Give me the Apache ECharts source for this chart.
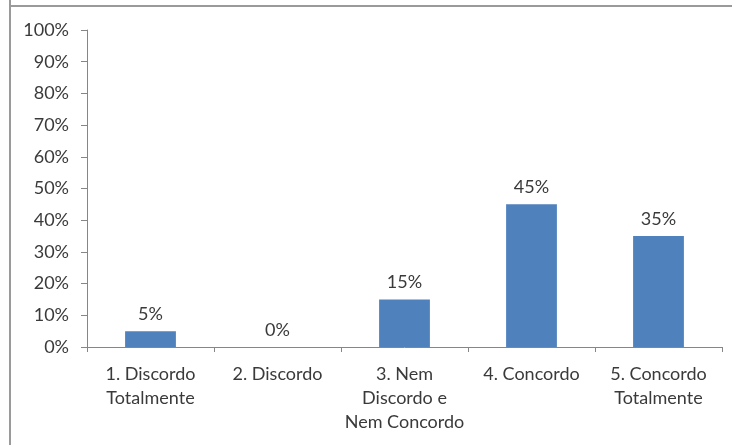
<!DOCTYPE html>
<html>
<head>
<meta charset="utf-8">
<script src="https://cdn.jsdelivr.net/npm/echarts@6/dist/echarts.min.js"></script>
<style>
html,body{margin:0;padding:0;background:#fff;}
#c{width:732px;height:445px;}
</style>
</head>
<body>
<div id="c"></div>
<script>
const categories = ['1. Discordo\nTotalmente', '2. Discordo', '3. Nem\nDiscordo e\nNem Concordo', '4. Concordo', '5. Concordo\nTotalmente'];
const values = [5, 0, 15, 45, 35];
const yTicks = [0, 10, 20, 30, 40, 50, 60, 70, 80, 90, 100];

const FONT = 'Lato';
const FS = 18;
const TXT = '#3a3a3a';
const chart = echarts.init(document.getElementById('c'));
chart.setOption({
  animation: false,
  backgroundColor: '#fff',
  graphic: [
    { type: 'line', shape: { x1: 10, y1: 0, x2: 10, y2: 445 }, style: { stroke: '#9a9a9a', lineWidth: 2 } },
    { type: 'line', shape: { x1: 9, y1: 6, x2: 732, y2: 6 }, style: { stroke: '#9a9a9a', lineWidth: 2 } }
  ],
  grid: { left: 87, right: 10, top: 30, bottom: 98, containLabel: false },
  xAxis: {
    type: 'category',
    data: categories,
    axisLine: { lineStyle: { color: '#868686', width: 1 } },
    axisTick: { show: true, length: 5, alignWithLabel: false, lineStyle: { color: '#868686' } },
    axisLabel: { color: TXT, fontFamily: FONT, fontSize: FS, lineHeight: 24, margin: 15, interval: 0 }
  },
  yAxis: {
    type: 'value',
    min: yTicks[0],
    max: yTicks[yTicks.length - 1],
    interval: 10,
    splitLine: { show: false },
    axisLine: { show: true, lineStyle: { color: '#868686', width: 1 } },
    axisTick: { show: true, length: 6, lineStyle: { color: '#868686' } },
    axisLabel: { color: TXT, fontFamily: FONT, fontSize: FS, margin: 18, formatter: '{value}%' }
  },
  series: [{
    type: 'bar',
    data: values,
    barWidth: '40%',
    itemStyle: { color: '#4F81BD' },
    label: { show: true, position: 'top', distance: 8, formatter: '{c}%', color: TXT, fontFamily: FONT, fontSize: FS }
  }]
});
</script>
</body>
</html>
